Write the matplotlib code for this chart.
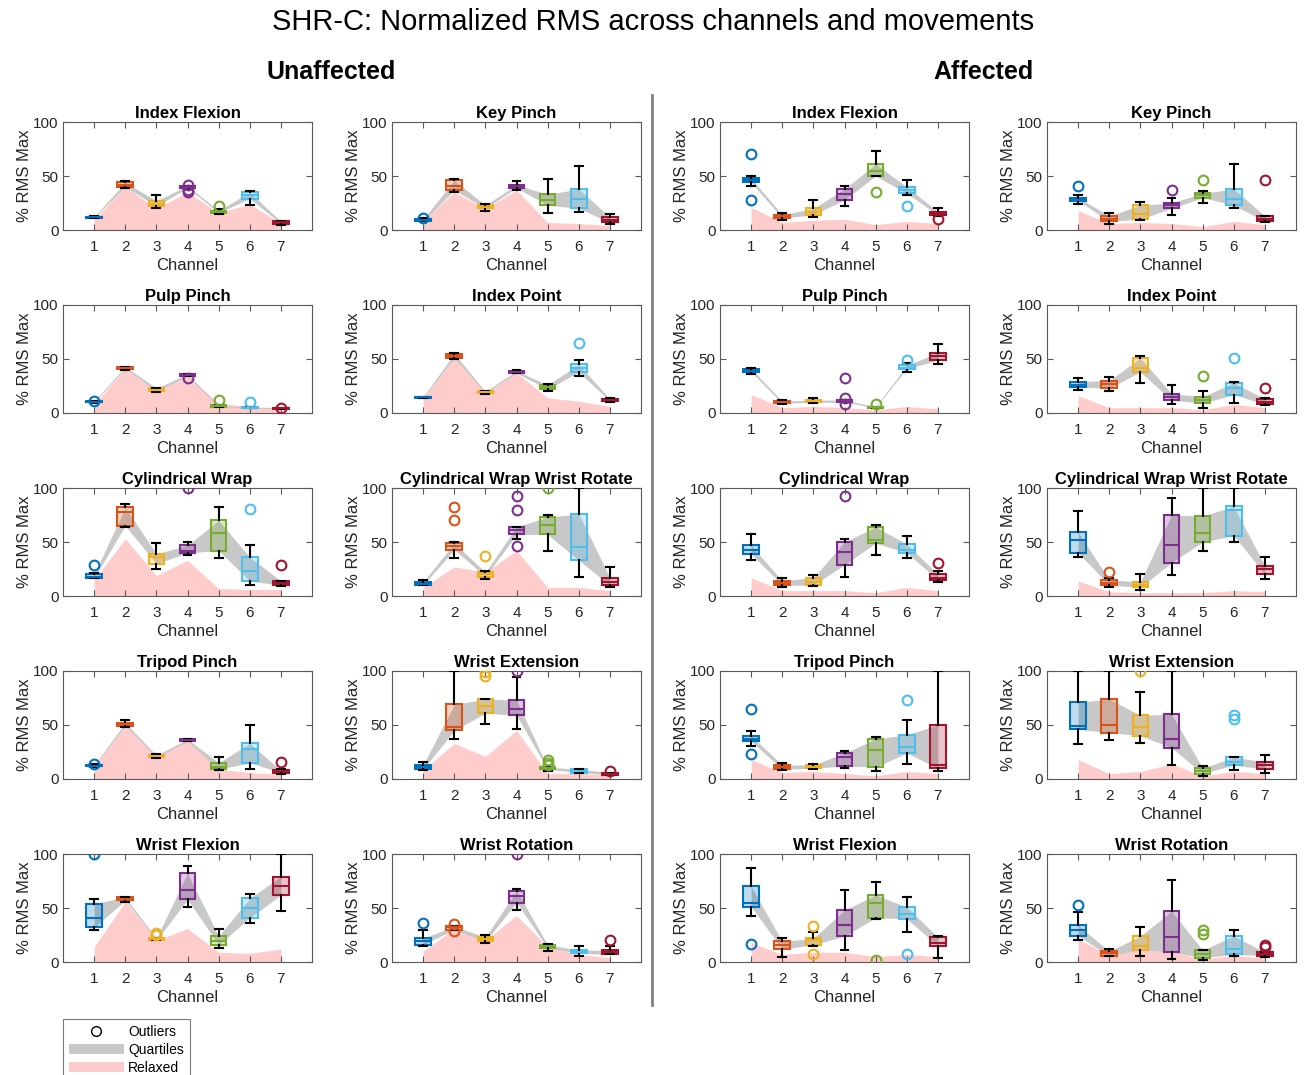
import numpy as np
import matplotlib
matplotlib.use('Agg')
import matplotlib.pyplot as plt
from matplotlib.colors import to_rgba
from matplotlib.lines import Line2D
from matplotlib.patches import Patch

plt.rcParams['font.family'] = ['Liberation Sans', 'DejaVu Sans']

# movements (same order for both sides)
titles = ['Index Flexion', 'Key Pinch', 'Pulp Pinch', 'Index Point', 'Cylindrical Wrap',
          'Cylindrical Wrap Wrist Rotate', 'Tripod Pinch', 'Wrist Extension',
          'Wrist Flexion', 'Wrist Rotation']
channels = [1, 2, 3, 4, 5, 6, 7]
ch_colors = ['#0072BD', '#D95319', '#EDB120', '#7E2F8E', '#77AC30', '#4DBEEE', '#A2142F']

# ---- unaffected side: one row per movement, one value per channel ----
u_lo = [[11, 39, 20, 38, 15, 23, 5],
        [8, 35, 18, 37, 16, 17, 6],
        [9, 40, 19, 34, 5.5, 4.5, 4],
        [14, 50, 18, 37, 20, 34, 10],
        [17, 64, 25, 38, 35, 10, 9],
        [10, 35, 16, 53, 42, 18, 8],
        [11, 48, 19, 35, 8, 9, 5],
        [8, 37, 51, 46, 7, 6, 4],
        [30, 56, 20, 51, 13, 36, 47],
        [15, 30, 18, 48, 10, 6, 7]]
u_q1 = [[11.5, 40, 22, 39, 16, 29, 6],
        [8, 37, 20, 39, 23, 20, 7],
        [10, 41, 20, 34, 6, 4.5, 4],
        [14, 51, 18.5, 37, 22, 38, 11],
        [17, 65, 30, 40, 42, 14, 10],
        [10, 43, 18, 57, 57, 33, 10],
        [12, 49, 20, 35, 9, 15, 6],
        [9, 45, 61, 59, 9, 6, 4],
        [32, 57, 20, 58, 16, 41, 62],
        [16, 30, 19, 55, 13, 8, 7]]
u_med = [[12, 42, 24, 40, 17, 32, 7],
         [9, 41, 21, 41, 28, 29, 9],
         [10.5, 42, 21, 35, 6.5, 5, 4.5],
         [14.5, 53, 19, 38, 24, 42, 12],
         [18, 78, 36, 42, 58, 23, 12],
         [11, 46, 20, 61, 66, 45, 13],
         [12.5, 51, 21, 36, 11, 28, 7],
         [11, 48, 68, 65, 10, 7.5, 5],
         [41, 58, 21, 67, 19, 50, 70],
         [19, 32, 21, 61, 14.5, 9, 9]]
u_q3 = [[12.5, 44, 27, 41, 18, 35, 8],
        [10, 46, 23, 42, 33, 38, 12],
        [11, 43, 23, 36, 7, 5.5, 5],
        [15, 55, 20, 39, 26, 45, 13],
        [20, 82, 39, 47, 70, 36, 14],
        [13, 49, 22, 64, 73, 76, 17],
        [13, 52, 22, 37, 15, 33, 8],
        [13, 69, 74, 73, 11, 9, 6],
        [54, 60, 22, 82, 24, 59, 79],
        [22, 33, 23, 66, 16, 11, 11]]
u_hi = [[13, 45, 32, 41, 19, 36, 8],
        [11, 47, 24, 45, 47, 59, 15],
        [11, 43, 23, 36, 7, 5.5, 5],
        [15, 56, 20, 40, 27, 49, 14],
        [21, 85, 49, 50, 82, 47, 14],
        [15, 50, 23, 64, 75, 100, 27],
        [14, 55, 23, 37, 20, 50, 9],
        [16, 100, 74, 94, 11, 9, 6],
        [58, 60, 22, 89, 31, 63, 100],
        [30, 33, 25, 68, 17, 15, 15]]
u_relax = [[10, 40, 20, 35, 16, 24, 6],
           [9, 35, 20, 37, 7, 6, 4],
           [8, 41, 20, 34, 9, 6, 4],
           [14, 52, 19, 37, 14, 11, 6],
           [15, 53, 19, 33, 7, 6, 6],
           [8, 27, 22, 42, 8, 8, 5],
           [12, 49, 20, 36, 9, 6, 4],
           [8, 33, 21, 45, 5, 5, 4],
           [14, 56, 20, 31, 9, 8, 12],
           [10, 31, 20, 43, 14, 7, 4]]
u_out = [[[], [], [], [42, 37, 35], [22], [], []],
         [[11], [], [], [], [], [], []],
         [[11], [], [], [32], [12], [10], [5]],
         [[], [], [], [], [], [65], []],
         [[29], [], [], [100], [], [81], [29]],
         [[], [82, 70], [37], [93, 80, 46], [100], [], []],
         [[14], [], [], [], [], [], [16]],
         [[], [], [99, 95], [100], [18, 15, 13], [], [7]],
         [[100], [], [27, 25], [], [], [], []],
         [[36], [35, 29], [], [100], [], [], [20]]]

# ---- affected side ----
a_lo = [[41, 9, 12, 22, 50, 32, 13],
        [24, 6, 9, 14, 25, 20, 7],
        [36, 8, 9, 10, 5, 38, 45],
        [21, 20, 28, 8, 5, 9, 7],
        [33, 8, 9, 18, 38, 35, 13],
        [36, 8, 6, 19, 42, 50, 16],
        [31, 8, 9, 10, 7, 14, 7],
        [32, 36, 33, 13, 3, 8, 6],
        [43, 5, 15, 11, 40, 28, 4],
        [20, 6, 6, 3, 2, 6, 5]]
a_q1 = [[44, 11, 14, 28, 50, 34, 14],
        [27, 8, 10, 20, 30, 23, 8],
        [38, 9, 10, 10, 5, 41, 49],
        [24, 23, 38, 12, 9, 17, 8],
        [39, 10, 10, 29, 49, 40, 15],
        [40, 10, 8, 31, 50, 56, 20],
        [35, 9, 10, 12, 11, 24, 10],
        [46, 43, 40, 29, 5, 13, 9],
        [51, 12, 16, 24, 41, 40, 15],
        [24, 6, 11, 9, 4, 7, 6]]
a_med = [[46, 13, 17, 33, 55, 37, 16],
         [28, 10, 15, 23, 32, 29, 10],
         [39, 10, 11, 11, 5.5, 42, 53],
         [26, 27, 42, 15, 12, 23, 10],
         [43, 12, 13, 41, 52, 43, 17],
         [52, 12, 10, 47, 58, 80, 25],
         [37, 11, 11, 20, 27, 30, 13],
         [49, 50, 48, 37, 7, 16, 13],
         [55, 16, 20, 34, 55, 44, 18],
         [30, 8, 15, 23, 7, 12, 7]]
a_q3 = [[48, 14, 20, 38, 61, 40, 17],
        [30, 13, 23, 25, 34, 38, 13],
        [41, 11, 12, 12, 6, 44, 56],
        [29, 30, 51, 18, 15, 28, 13],
        [47, 14, 17, 50, 64, 48, 20],
        [59, 15, 13, 75, 74, 83, 28],
        [40, 13, 13, 24, 37, 41, 50],
        [71, 74, 59, 60, 10, 20, 16],
        [70, 19, 22, 48, 62, 51, 23],
        [34, 10, 24, 47, 11, 24, 9]]
a_hi = [[50, 16, 28, 41, 73, 46, 20],
        [32, 16, 26, 30, 36, 61, 13],
        [42, 12, 14, 12, 6, 46, 64],
        [32, 33, 53, 26, 20, 29, 14],
        [57, 17, 19, 53, 66, 56, 23],
        [79, 17, 20, 91, 100, 100, 36],
        [44, 15, 14, 26, 39, 55, 100],
        [100, 100, 81, 100, 12, 20, 22],
        [87, 22, 28, 67, 74, 60, 24],
        [46, 12, 32, 76, 11, 30, 9]]
a_relax = [[21, 7, 9, 10, 5, 8, 6],
           [18, 6, 7, 6, 3, 8, 5],
           [17, 5, 6, 5, 3, 6, 4],
           [16, 5, 5, 5, 3, 8, 5],
           [17, 5, 5, 5, 3, 8, 5],
           [14, 4, 3, 3, 3, 5, 4],
           [18, 6, 7, 5, 3, 7, 5],
           [18, 5, 7, 14, 3, 7, 5],
           [18, 7, 9, 9, 5, 7, 5],
           [21, 7, 11, 9, 3, 6, 4]]
a_out = [[[70, 28], [], [], [], [35], [22], [10]],
         [[41], [], [], [37], [46], [], [46]],
         [[], [], [], [32, 14, 8], [8], [49], []],
         [[], [], [], [], [34], [51], [23]],
         [[], [], [], [93], [], [], [31]],
         [[], [22], [], [], [], [], []],
         [[65, 23], [], [], [], [], [73], []],
         [[], [], [100], [], [], [59, 56], []],
         [[17], [], [33, 7], [], [2], [7], []],
         [[53], [], [], [], [30, 26], [], [16, 14]]]

W, H = 1306, 1075
fig = plt.figure(figsize=(W / 100, H / 100), dpi=100)

col_left = [63, 392, 720, 1047]
row_bottom = [230, 413, 596, 779, 962]
ax_w, ax_h = 249, 108
frame_col = '#595959'
txt_col = '#262626'


def draw_panel(ax, title, lo, q1, med, q3, hi, relax, out):
    x = np.array(channels)
    ax.fill_between(x, 0, relax, color='#FFCCCC', lw=0, zorder=1)
    ax.fill_between(x, q1, q3, color='#C8C8C8', lw=0, zorder=2)
    for c in range(7):
        col = ch_colors[c]
        st = dict(med=med[c], q1=q1[c], q3=q3[c], whislo=lo[c], whishi=hi[c], fliers=out[c])
        ax.bxp([st], positions=[channels[c]], widths=0.5, patch_artist=True,
               boxprops=dict(facecolor=to_rgba(col, 0.25), edgecolor=col, lw=1.5),
               medianprops=dict(color=col, lw=1.5),
               whiskerprops=dict(color='k', lw=1.5),
               capprops=dict(color='k', lw=1.5),
               flierprops=dict(marker='o', mfc='none', mec=col, ms=7, mew=1.5, ls='none'),
               zorder=3)
    ax.set_xlim(0, 8)
    ax.set_ylim(0, 100)
    ax.set_xticks(channels)
    ax.set_xticklabels([str(c) for c in channels])
    ax.set_yticks([0, 50, 100])
    ax.tick_params(direction='in', top=True, right=True, labelsize=11,
                   colors=frame_col, labelcolor=txt_col, length=4)
    ax.tick_params(axis='x', pad=7)
    ax.tick_params(axis='y', pad=3)
    for s in ax.spines.values():
        s.set_color(frame_col)
        s.set_linewidth(0.8)
    ax.set_title(title, fontsize=12, fontweight='bold', color='k', pad=3)
    ax.set_xlabel('Channel', fontsize=12, color=txt_col, labelpad=3)
    ax.set_ylabel('% RMS Max', fontsize=12, color=txt_col, labelpad=1)


sides = [(u_lo, u_q1, u_med, u_q3, u_hi, u_relax, u_out),
         (a_lo, a_q1, a_med, a_q3, a_hi, a_relax, a_out)]
for s, data in enumerate(sides):
    for k in range(10):
        r, c = k // 2, k % 2 + 2 * s
        ax = fig.add_axes([col_left[c] / W, 1 - row_bottom[r] / H, ax_w / W, ax_h / H])
        draw_panel(ax, titles[k], *[d[k] for d in data])

fig.text(0.5, 1 - 22 / H, 'SHR-C: Normalized RMS across channels and movements',
         ha='center', va='center', fontsize=21)
fig.text(331 / W, 1 - 72 / H, 'Unaffected', ha='center', va='center', fontsize=18, fontweight='bold')
fig.text(983 / W, 1 - 72 / H, 'Affected', ha='center', va='center', fontsize=18, fontweight='bold')

fig.add_artist(Line2D([652 / W, 652 / W], [1 - 95 / H, 1 - 1005 / H],
                      transform=fig.transFigure, color='#808080', lw=2))

handles = [Line2D([], [], marker='o', ls='none', mfc='none', mec='k', ms=7, mew=1),
           Patch(facecolor='#C8C8C8', edgecolor='none'),
           Patch(facecolor='#FFCCCC', edgecolor='none')]
leg = fig.legend(handles, ['Outliers', 'Quartiles', 'Relaxed'], loc='upper left',
                 bbox_to_anchor=(63 / W, 1 - 1019 / H), fontsize=10, frameon=True,
                 fancybox=False, edgecolor=frame_col, handlelength=4, handletextpad=0.3,
                 labelspacing=0.3, borderpad=0.4, borderaxespad=0)
leg.get_frame().set_linewidth(0.8)

fig.savefig('out.png', dpi=100)
